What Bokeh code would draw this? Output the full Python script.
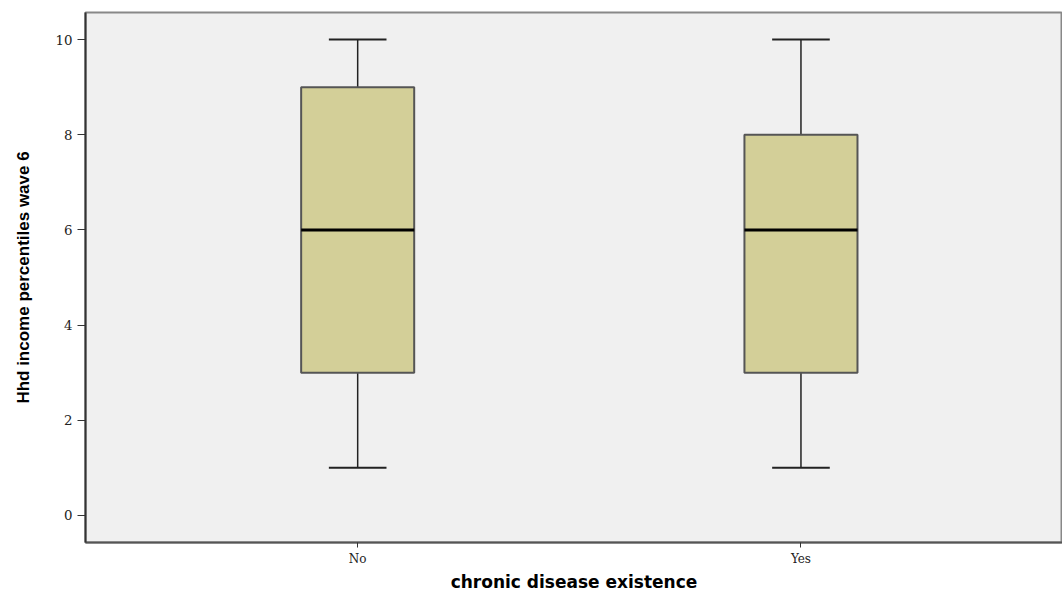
from bokeh.plotting import figure
from bokeh.models import Range1d, FixedTicker
from bokeh.embed import file_html
from bokeh.resources import INLINE

# Five-number summaries per group
categories = ["No", "Yes"]
positions = [1, 2]
whisker_low = [1, 1]
q1 = [3, 3]
median = [6, 6]
q3 = [9, 8]
whisker_high = [10, 10]

box_width = 0.255
cap_width = 0.13

p = figure(width=1062, height=594, output_backend="svg", toolbar_location=None,
           x_range=Range1d(0.386, 2.59), y_range=Range1d(-0.57, 10.57),
           min_border_left=85, min_border_right=0, min_border_top=12, min_border_bottom=0)

p.background_fill_color = "#f0f0f0"
p.border_fill_color = "white"
p.grid.visible = False
p.outline_line_color = "#888888"
p.outline_line_width = 2

# Whiskers
p.segment(x0=positions, y0=q3, x1=positions, y1=whisker_high, line_color="#222222", line_width=1.5)
p.segment(x0=positions, y0=whisker_low, x1=positions, y1=q1, line_color="#222222", line_width=1.5)
caps_x0 = [x - cap_width / 2 for x in positions]
caps_x1 = [x + cap_width / 2 for x in positions]
p.segment(x0=caps_x0, y0=whisker_high, x1=caps_x1, y1=whisker_high, line_color="#222222", line_width=2)
p.segment(x0=caps_x0, y0=whisker_low, x1=caps_x1, y1=whisker_low, line_color="#222222", line_width=2)

# Boxes
p.vbar(x=positions, width=box_width, bottom=q1, top=q3,
       fill_color="#d3cf98", line_color="#555555", line_width=2)

# Medians
med_x0 = [x - box_width / 2 for x in positions]
med_x1 = [x + box_width / 2 for x in positions]
p.segment(x0=med_x0, y0=median, x1=med_x1, y1=median, line_color="black", line_width=3)

# Axes
p.yaxis.ticker = FixedTicker(ticks=[0, 2, 4, 6, 8, 10])
p.yaxis.minor_tick_line_color = None
p.yaxis.major_tick_out = 8
p.yaxis.major_tick_in = 0
p.yaxis.axis_line_color = "#333333"
p.yaxis.axis_line_width = 2
p.yaxis.major_tick_line_color = "#333333"
p.yaxis.major_label_text_font = "DejaVu Serif"
p.yaxis.major_label_text_font_size = "10pt"
p.yaxis.major_label_text_color = "#222222"
p.yaxis.axis_label = "Hhd income percentiles wave 6"
p.yaxis.axis_label_text_font = "Liberation Sans"
p.yaxis.axis_label_text_font_style = "bold"
p.yaxis.axis_label_text_font_size = "17px"
p.yaxis.axis_label_text_color = "black"
p.yaxis.axis_label_standoff = 20

p.xaxis.ticker = FixedTicker(ticks=positions)
p.xaxis.major_label_overrides = {pos: cat for pos, cat in zip(positions, categories)}
p.xaxis.minor_tick_line_color = None
p.xaxis.major_tick_out = 5
p.xaxis.major_tick_in = 0
p.xaxis.axis_line_color = "#555555"
p.xaxis.axis_line_width = 2
p.xaxis.major_tick_line_color = "#333333"
p.xaxis.major_label_text_font = "DejaVu Serif"
p.xaxis.major_label_text_font_size = "9pt"
p.xaxis.major_label_text_color = "#222222"
p.xaxis.major_label_standoff = 4
p.xaxis.axis_label = "chronic disease existence"
p.xaxis.axis_label_text_font = "DejaVu Sans"
p.xaxis.axis_label_text_font_style = "bold"
p.xaxis.axis_label_text_font_size = "17px"
p.xaxis.axis_label_text_color = "black"
p.xaxis.axis_label_standoff = 3

open("out.html", "w").write(file_html(p, INLINE))
